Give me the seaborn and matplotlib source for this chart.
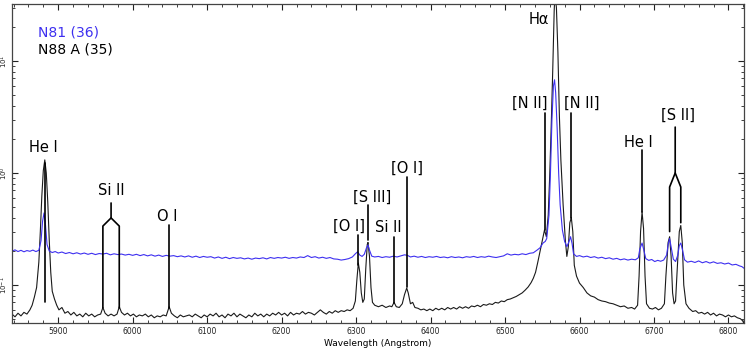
#Optical spectra of N81 and N88 A with line identifications
import numpy as np
import pandas as pd
import matplotlib
matplotlib.use("Agg")
import matplotlib.pyplot as plt
import seaborn as sns
from matplotlib.ticker import MultipleLocator, LogLocator

#N88 A spectrum (black), wavelength in Angstrom
n88_wave = [5838, 5842, 5846, 5850, 5854, 5858, 5862, 5865, 5868, 5871, 5874, 5876, 5878, 5880, 5882,
            5884, 5886, 5888, 5890, 5892, 5895, 5898, 5901, 5905, 5909, 5913, 5917, 5921, 5925, 5929,
            5933, 5937, 5941, 5945, 5949, 5953, 5957, 5960, 5963, 5967, 5971, 5975, 5979, 5982, 5985,
            5989, 5993, 5997, 6001, 6005, 6009, 6013, 6017, 6021, 6025, 6029, 6033, 6037, 6041, 6045,
            6049, 6052, 6056, 6060, 6064, 6068, 6072, 6076, 6080, 6084, 6088, 6092, 6096, 6100, 6104,
            6108, 6112, 6116, 6120, 6124, 6128, 6132, 6136, 6140, 6144, 6148, 6152, 6156, 6160, 6164,
            6168, 6172, 6176, 6180, 6184, 6188, 6192, 6196, 6200, 6204, 6208, 6212, 6216, 6220, 6224,
            6228, 6232, 6236, 6240, 6244, 6248, 6252, 6256, 6260, 6264, 6268, 6272, 6276, 6280, 6284,
            6288, 6292, 6296, 6299, 6301, 6303, 6305, 6307, 6309, 6311, 6313, 6315, 6316, 6318, 6320,
            6322, 6325, 6330, 6335, 6340, 6345, 6348, 6351, 6354, 6358, 6362, 6365, 6368, 6370, 6373,
            6376, 6379, 6383, 6387, 6391, 6395, 6399, 6403, 6407, 6411, 6415, 6419, 6423, 6427, 6431,
            6435, 6439, 6443, 6447, 6451, 6455, 6459, 6463, 6467, 6471, 6475, 6479, 6483, 6487, 6491,
            6495, 6499, 6503, 6507, 6511, 6515, 6519, 6523, 6527, 6531, 6535, 6538, 6541, 6544, 6547,
            6550, 6553, 6555.5, 6558, 6560, 6562, 6564, 6566, 6567, 6569, 6571, 6573, 6575, 6578, 6581,
            6583, 6585, 6587, 6589, 6591, 6593, 6596, 6600, 6605, 6610, 6615, 6620, 6625, 6630, 6635,
            6640, 6645, 6650, 6655, 6660, 6665, 6670, 6674, 6678, 6680, 6682, 6684, 6686, 6688, 6690,
            6694, 6698, 6702, 6706, 6710, 6714, 6716, 6719, 6721, 6723, 6725, 6727, 6729, 6731, 6734,
            6736, 6738, 6740, 6743, 6747, 6752, 6756, 6760, 6764, 6768, 6772, 6776, 6780, 6784, 6788,
            6792, 6796, 6800, 6804, 6808, 6812, 6816, 6819, 6821]
n88_flux = [0.055, 0.052, 0.056, 0.053, 0.057, 0.055, 0.060, 0.066, 0.078, 0.095, 0.16, 0.30, 0.62, 1.05, 1.31,
            1.00, 0.55, 0.25, 0.13, 0.088, 0.075, 0.066, 0.060, 0.063, 0.056, 0.058, 0.054, 0.057, 0.053, 0.055,
            0.052, 0.056, 0.053, 0.055, 0.052, 0.054, 0.055, 0.063, 0.056, 0.053, 0.055, 0.053, 0.055, 0.064, 0.057,
            0.054, 0.056, 0.053, 0.055, 0.052, 0.054, 0.053, 0.055, 0.052, 0.054, 0.051, 0.053, 0.052, 0.054, 0.053,
            0.064, 0.056, 0.053, 0.051, 0.054, 0.052, 0.053, 0.054, 0.052, 0.055, 0.053, 0.051, 0.054, 0.052, 0.055,
            0.053, 0.056, 0.052, 0.054, 0.051, 0.055, 0.053, 0.056, 0.052, 0.055, 0.053, 0.051, 0.054, 0.052, 0.056,
            0.053, 0.055, 0.052, 0.055, 0.053, 0.056, 0.054, 0.057, 0.054, 0.056, 0.053, 0.057, 0.054, 0.056, 0.055,
            0.058, 0.055, 0.057, 0.056, 0.054, 0.057, 0.060, 0.057, 0.055, 0.058, 0.056, 0.059, 0.057, 0.059, 0.058,
            0.060, 0.059, 0.062, 0.072, 0.11, 0.157, 0.13, 0.085, 0.070, 0.075, 0.14, 0.23, 0.24, 0.18, 0.095,
            0.070, 0.066, 0.064, 0.066, 0.063, 0.065, 0.064, 0.070, 0.064, 0.063, 0.068, 0.082, 0.094, 0.085, 0.068,
            0.070, 0.063, 0.062, 0.060, 0.061, 0.059, 0.061, 0.059, 0.062, 0.060, 0.062, 0.060, 0.063, 0.061, 0.063,
            0.061, 0.064, 0.062, 0.064, 0.062, 0.065, 0.064, 0.066, 0.064, 0.067, 0.066, 0.068, 0.067, 0.070, 0.069,
            0.072, 0.071, 0.074, 0.075, 0.077, 0.079, 0.082, 0.085, 0.090, 0.096, 0.105, 0.115, 0.13, 0.16, 0.20,
            0.25, 0.31, 0.27, 0.42, 0.95, 2.6, 8.0, 28.0, 40.0, 30.0, 12.0, 3.2, 1.3, 0.52, 0.25,
            0.18, 0.22, 0.36, 0.40, 0.30, 0.15, 0.12, 0.104, 0.095, 0.085, 0.080, 0.078, 0.074, 0.072, 0.071,
            0.069, 0.068, 0.066, 0.064, 0.065, 0.062, 0.063, 0.061, 0.066, 0.12, 0.30, 0.45, 0.32, 0.12, 0.068,
            0.062, 0.061, 0.063, 0.060, 0.062, 0.068, 0.12, 0.24, 0.27, 0.18, 0.085, 0.068, 0.072, 0.13, 0.30,
            0.34, 0.24, 0.10, 0.068, 0.062, 0.058, 0.059, 0.056, 0.057, 0.055, 0.057, 0.054, 0.056, 0.053, 0.055,
            0.054, 0.052, 0.054, 0.052, 0.053, 0.051, 0.050, 0.048, 0.045]

#N81 spectrum (blue)
n81_wave = [5838, 5842, 5846, 5850, 5854, 5858, 5862, 5866, 5870, 5874, 5877, 5879, 5881, 5883, 5885,
            5888, 5892, 5896, 5900, 5905, 5910, 5915, 5920, 5925, 5930, 5935, 5940, 5945, 5950, 5955,
            5960, 5965, 5970, 5975, 5980, 5985, 5990, 5995, 6000, 6005, 6010, 6015, 6020, 6025, 6030,
            6035, 6040, 6045, 6050, 6055, 6060, 6065, 6070, 6075, 6080, 6085, 6090, 6095, 6100, 6105,
            6110, 6115, 6120, 6125, 6130, 6135, 6140, 6145, 6150, 6155, 6160, 6165, 6170, 6175, 6180,
            6185, 6190, 6195, 6200, 6205, 6210, 6215, 6220, 6225, 6230, 6235, 6240, 6245, 6250, 6255,
            6260, 6265, 6270, 6275, 6280, 6285, 6290, 6295, 6299, 6302, 6305, 6308, 6311, 6314, 6316,
            6318, 6321, 6325, 6330, 6335, 6340, 6345, 6350, 6355, 6360, 6365, 6369, 6373, 6378, 6383,
            6388, 6393, 6398, 6403, 6408, 6413, 6418, 6423, 6428, 6433, 6438, 6443, 6448, 6453, 6458,
            6463, 6468, 6473, 6478, 6483, 6488, 6493, 6498, 6503, 6508, 6513, 6518, 6523, 6528, 6533,
            6538, 6543, 6547, 6551, 6554, 6556, 6559, 6561, 6563, 6565, 6566.5, 6568, 6570, 6572, 6574,
            6577, 6580, 6583, 6586, 6588, 6590, 6592, 6596, 6600, 6605, 6610, 6615, 6620, 6625, 6630,
            6635, 6640, 6645, 6650, 6655, 6660, 6665, 6670, 6675, 6679, 6681, 6684, 6686, 6689, 6693,
            6697, 6701, 6705, 6709, 6713, 6717, 6719, 6721, 6723, 6726, 6729, 6732, 6734, 6736, 6738,
            6741, 6745, 6750, 6755, 6760, 6765, 6770, 6775, 6780, 6785, 6790, 6795, 6800, 6805, 6810,
            6815, 6818, 6821]
n81_flux = [0.200, 0.206, 0.199, 0.204, 0.198, 0.203, 0.200, 0.205, 0.199, 0.204, 0.25, 0.37, 0.44, 0.34, 0.23,
            0.201, 0.195, 0.199, 0.193, 0.197, 0.191, 0.195, 0.190, 0.194, 0.189, 0.193, 0.188, 0.192, 0.187, 0.191,
            0.189, 0.192, 0.186, 0.190, 0.187, 0.189, 0.185, 0.188, 0.184, 0.188, 0.183, 0.187, 0.182, 0.186, 0.181,
            0.185, 0.180, 0.184, 0.181, 0.183, 0.179, 0.182, 0.178, 0.182, 0.177, 0.181, 0.176, 0.180, 0.177, 0.179,
            0.174, 0.178, 0.173, 0.177, 0.172, 0.176, 0.173, 0.175, 0.171, 0.174, 0.170, 0.174, 0.172, 0.175, 0.171,
            0.176, 0.173, 0.176, 0.174, 0.177, 0.173, 0.176, 0.174, 0.178, 0.176, 0.183, 0.176, 0.179, 0.174, 0.177,
            0.173, 0.176, 0.171, 0.170, 0.167, 0.169, 0.172, 0.178, 0.190, 0.198, 0.185, 0.180, 0.188, 0.215, 0.228,
            0.205, 0.181, 0.178, 0.180, 0.176, 0.179, 0.177, 0.181, 0.178, 0.182, 0.186, 0.184, 0.178, 0.181, 0.177,
            0.180, 0.176, 0.179, 0.177, 0.180, 0.176, 0.178, 0.175, 0.179, 0.176, 0.178, 0.175, 0.179, 0.177, 0.180,
            0.176, 0.179, 0.177, 0.181, 0.178, 0.176, 0.179, 0.182, 0.190, 0.185, 0.188, 0.186, 0.190, 0.187, 0.192,
            0.194, 0.205, 0.215, 0.237, 0.245, 0.26, 0.42, 1.0, 3.0, 6.0, 6.8, 5.2, 2.5, 1.0, 0.52,
            0.31, 0.245, 0.22, 0.245, 0.27, 0.235, 0.19, 0.180, 0.183, 0.178, 0.181, 0.176, 0.179, 0.174, 0.177,
            0.172, 0.175, 0.170, 0.173, 0.168, 0.171, 0.167, 0.170, 0.168, 0.175, 0.21, 0.237, 0.21, 0.172, 0.166,
            0.169, 0.162, 0.166, 0.163, 0.167, 0.185, 0.23, 0.26, 0.22, 0.17, 0.162, 0.185, 0.225, 0.237, 0.21,
            0.168, 0.160, 0.163, 0.159, 0.164, 0.158, 0.162, 0.157, 0.161, 0.156, 0.158, 0.154, 0.157, 0.151, 0.153,
            0.148, 0.146, 0.141]

#single line identifications: label, label position, tick line
line_labels = ['He I', 'O I', '[O I]', '[S III]', 'Si II', '[O I]', '[N II]', '[N II]', 'He I']
label_wave = [5880, 6046, 6290, 6322, 6343, 6368, 6533, 6603, 6679]
label_flux = [1.70, 0.41, 0.336, 0.61, 0.329, 1.11, 4.22, 4.22, 1.89]
line_wave = [5882, 6049, 6303, 6316, 6351, 6368, 6553, 6588, 6684]
line_lo = [0.0706, 0.0626, 0.15, 0.252, 0.069, 0.096, 0.31, 0.40, 0.45]
line_hi = [1.23, 0.343, 0.28, 0.518, 0.268, 0.921, 3.43, 3.43, 1.6]

#doublets drawn with a forked tick
fork_labels = ['Si II', '[S II]']
fork_label_wave = [5971, 6732]
fork_label_flux = [0.705, 3.29]
fork_left = [5960, 6721]
fork_right = [5982, 6736]
fork_lo_left = [0.0626, 0.30]
fork_lo_right = [0.0626, 0.36]
fork_shoulder = [0.336, 0.75]
fork_join = [0.397, 1.0]
fork_top = [0.54, 2.57]

halpha_label = 'Hα'
halpha_wave = 6546
halpha_flux = 23.7

sns.set_style("ticks")
plt.rcParams['font.family'] = ['DejaVu Sans']
plt.rcParams['text.color'] = 'black'
plt.rcParams['axes.labelcolor'] = 'black'

fig = plt.figure(figsize=(7.47, 3.53), dpi=100)
ax = fig.add_axes([0.0161, 0.085, 0.98, 0.9037])

black_df = pd.DataFrame({'wave': n88_wave, 'flux': n88_flux})
blue_df = pd.DataFrame({'wave': n81_wave, 'flux': n81_flux})
sns.lineplot(data=black_df, x='wave', y='flux', ax=ax, color='#1a1a1a', lw=0.8,
             estimator=None, sort=False)
sns.lineplot(data=blue_df, x='wave', y='flux', ax=ax, color='#3d2ff0', lw=0.8,
             estimator=None, sort=False)

ax.set_yscale('log')
ax.set_xlim(5838, 6821)
ax.set_ylim(0.0458, 32.3)

#line markers
for i in range(len(line_wave)):
    ax.plot([line_wave[i], line_wave[i]], [line_lo[i], line_hi[i]], color='black', lw=1.2)
    ax.text(label_wave[i], label_flux[i], line_labels[i], ha='center', va='center', fontsize=10.5)

for i in range(len(fork_left)):
    mid = (fork_left[i] + fork_right[i]) / 2
    ax.plot([fork_left[i], fork_left[i], mid, mid],
            [fork_lo_left[i], fork_shoulder[i], fork_join[i], fork_top[i]], color='black', lw=1.2)
    ax.plot([fork_right[i], fork_right[i], mid],
            [fork_lo_right[i], fork_shoulder[i], fork_join[i]], color='black', lw=1.2)
    ax.text(fork_label_wave[i], fork_label_flux[i], fork_labels[i], ha='center', va='center', fontsize=10.5)

ax.text(halpha_wave, halpha_flux, halpha_label, ha='center', va='center', fontsize=10.5)

#legend as coloured text
ax.text(0.0355, 0.912, 'N81 (36)', color='#3d2ff0', transform=ax.transAxes, va='center', fontsize=10)
ax.text(0.0355, 0.856, 'N88 A (35)', color='black', transform=ax.transAxes, va='center', fontsize=10)

ax.xaxis.set_major_locator(MultipleLocator(100))
ax.xaxis.set_minor_locator(MultipleLocator(20))
ax.yaxis.set_minor_locator(LogLocator(base=10, subs=np.arange(2, 10)))
ax.tick_params(which='both', direction='in', top=True, right=True, colors='#222222')
ax.tick_params(which='major', length=4, width=0.8, labelsize=5.5, pad=3)
ax.tick_params(which='minor', length=2.2, width=0.6)
ax.tick_params(axis='y', labelsize=5, pad=1.5)
plt.setp(ax.get_yticklabels(), rotation=90, va='center')
for s in ax.spines.values():
    s.set_color('#444444')
    s.set_linewidth(0.9)

ax.set_xlabel('Wavelength (Angstrom)', fontsize=6.5, labelpad=2)
ax.set_ylabel('')

fig.savefig('out.png', dpi=100)
plt.close()
